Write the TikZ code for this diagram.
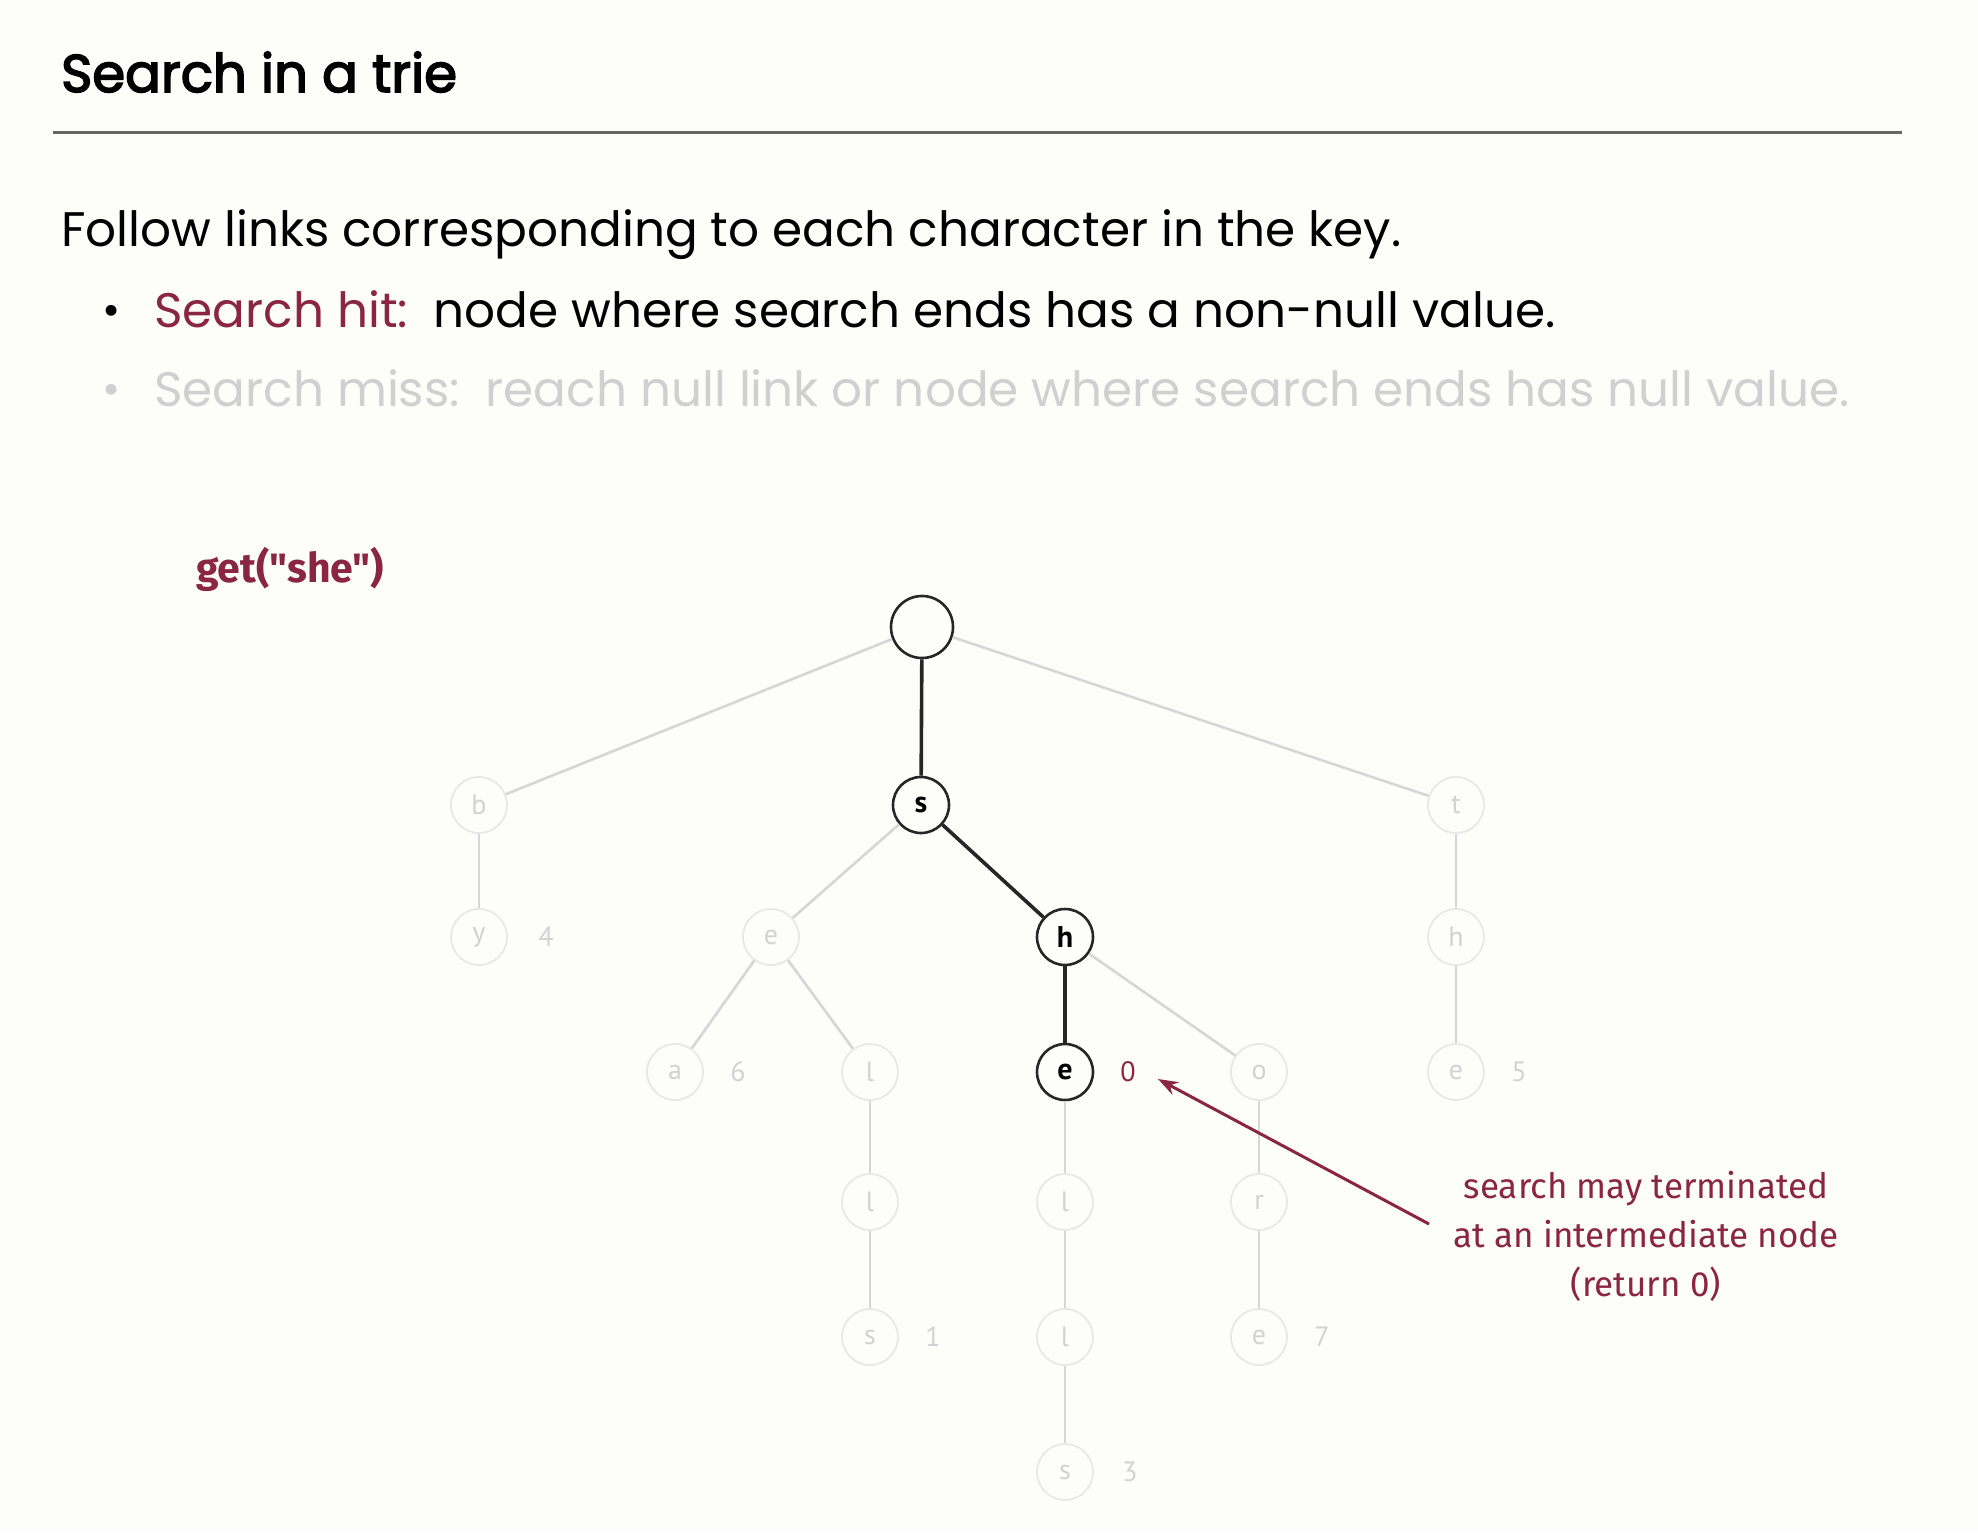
\documentclass[tikz,border=0pt]{standalone}
\usepackage{fontspec}
\setmainfont{Poppins}
\newfontfamily\titlefont[FakeBold=3]{Poppins}
\newfontfamily\labelfont{PT Sans}
\newfontfamily\notefont{Fira Sans}
\usetikzlibrary{arrows.meta}
\definecolor{bg}{HTML}{FDFDFA}
\definecolor{maroon}{HTML}{8A2642}
\definecolor{faintline}{HTML}{D6D6D6}
\definecolor{faintring}{HTML}{E8E8E8}
\definecolor{fainttext}{HTML}{D2D2D2}
\definecolor{misstext}{HTML}{D0D0D0}
\begin{document}
\begin{tikzpicture}[x=1pt,y=-1pt,
  trienode/.style={circle,draw=faintring,line width=1.8pt,minimum size=56pt,inner sep=0pt,
    text=fainttext,font=\labelfont\fontsize{28}{28}\selectfont},
  pathnode/.style={trienode,draw=black!85,line width=2.6pt,text=black,
    font=\labelfont\bfseries\fontsize{30}{30}\selectfont},
  rootnode/.style={pathnode,minimum size=62pt},
  link/.style={draw=faintline,line width=2.6pt},
  pathlink/.style={draw=black!85,line width=3.6pt},
  val/.style={text=fainttext,font=\labelfont\fontsize{28}{28}\selectfont},
  hitval/.style={val,text=maroon},
  textline/.style={anchor=base west,inner sep=0pt},
  bodyfont/.style={font=\fontsize{48.5}{48.5}\selectfont},
  bulletfont/.style={font=\fontsize{44}{44}\selectfont},
]
\useasboundingbox[fill=bg] (0,0) rectangle (1978,1532);

% heading and rule
\node[textline] (title) at (61,92) {\titlefont\fontsize{53}{53}\selectfont Search in a trie};
\coordinate (ruleL) at (53,132);
\coordinate (ruleR) at (1902,132);
\draw[draw=black!60,line width=3pt] (ruleL) -- (ruleR);

% body text
\node[textline,bodyfont] (intro) at (61,246) {Follow links corresponding to each character in the key.};
\node[textline,bulletfont] (dot1) at (102,325) {\textbullet};
\node[textline,bodyfont] (hit) at (154,327) {\textcolor{maroon}{Search hit:}\ \ node where search ends has a non-null value.};
\node[textline,text=misstext,bulletfont] (dot2) at (102,404) {\textbullet};
\node[textline,bodyfont,text=misstext] (miss) at (154,406) {Search miss:\ \ reach null link or node where search ends has null value.};

% query
\node[textline,text=maroon] (query) at (196,582) {\notefont\bfseries\fontsize{41}{41}\selectfont get("she")};

% trie nodes
\node[rootnode] (root) at (922,627) {};
\node[trienode] (b)  at (479,805) {b};
\node[pathnode] (s)  at (921,805) {s};
\node[trienode] (t)  at (1456,805) {t};
\node[trienode] (by) at (479,937) {y};
\node[trienode] (se) at (771,937) {e};
\node[pathnode] (sh) at (1065,937) {h};
\node[trienode] (th) at (1456,937) {h};
\node[trienode] (sea) at (675,1072) {a};
\node[trienode] (sel) at (870,1072) {l};
\node[pathnode] (she) at (1065,1072) {e};
\node[trienode] (sho) at (1259,1072) {o};
\node[trienode] (the) at (1456,1072) {e};
\node[trienode] (sell) at (870,1202) {l};
\node[trienode] (shel) at (1065,1202) {l};
\node[trienode] (shor) at (1259,1202) {r};
\node[trienode] (sells) at (870,1337) {s};
\node[trienode] (shell) at (1065,1337) {l};
\node[trienode] (shore) at (1259,1337) {e};
\node[trienode] (shells) at (1065,1472) {s};

% values
\node[val] (v4) at (546,937) {4};
\node[val] (v6) at (738,1072) {6};
\node[hitval] (v0) at (1128,1072) {0};
\node[val] (v5) at (1519,1072) {5};
\node[val] (v1) at (933,1337) {1};
\node[val] (v7) at (1322,1337) {7};
\node[val] (v3) at (1130,1472) {3};

% links
\draw[link] (root) -- (b);
\draw[link] (root) -- (t);
\draw[link] (b) -- (by);
\draw[link] (t) -- (th);
\draw[link] (th) -- (the);
\draw[link] (s) -- (se);
\draw[link] (se) -- (sea);
\draw[link] (se) -- (sel);
\draw[link] (sel) -- (sell);
\draw[link] (sell) -- (sells);
\draw[link] (sh) -- (sho);
\draw[link] (sho) -- (shor);
\draw[link] (shor) -- (shore);
\draw[link] (she) -- (shel);
\draw[link] (shel) -- (shell);
\draw[link] (shell) -- (shells);
\draw[pathlink] (root) -- (s);
\draw[pathlink] (s) -- (sh);
\draw[pathlink] (sh) -- (she);

% annotation
\node[align=center,text=maroon,font=\notefont\fontsize{35}{49}\selectfont] (note) at (1646,1236)
  {search may terminated\\at an intermediate node\\(return 0)};
\coordinate (tail) at (1429,1224);
\coordinate (tip) at (1158,1079);
\draw[draw=maroon,line width=3pt,-{Stealth[length=20pt,width=14pt]}] (tail) -- (tip);
\end{tikzpicture}
\end{document}
